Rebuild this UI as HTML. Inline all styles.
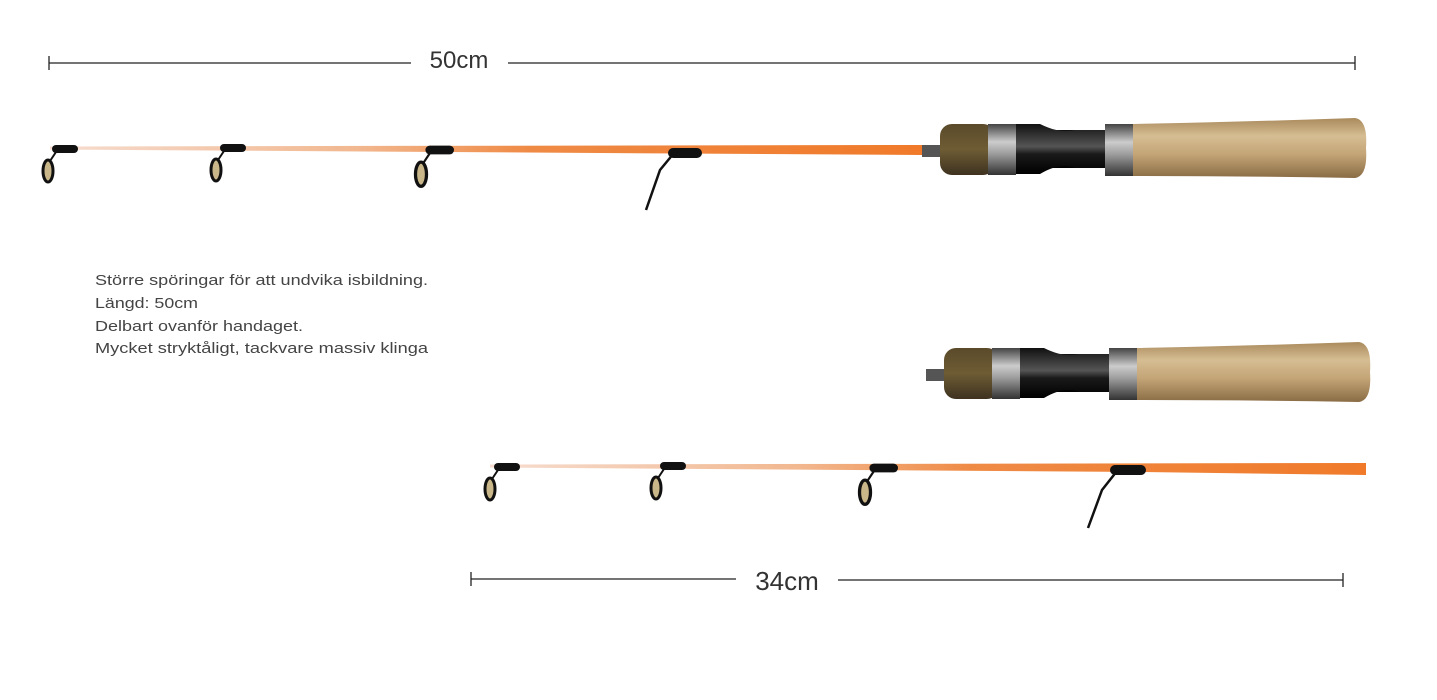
<!DOCTYPE html>
<html><head><meta charset="utf-8"><style>
html,body{margin:0;padding:0;background:#fff;}
svg{display:block;}
</style></head><body>
<svg width="1437" height="700" viewBox="0 0 1437 700" xmlns="http://www.w3.org/2000/svg">
<defs>
<linearGradient id="blank" x1="0" x2="1" y1="0" y2="0">
<stop offset="0" stop-color="#f6ddd0"/><stop offset="0.35" stop-color="#f2b890"/><stop offset="0.55" stop-color="#ef8a45"/><stop offset="1" stop-color="#f07a2a"/>
</linearGradient>
<linearGradient id="cork" x1="0" x2="0" y1="0" y2="1">
<stop offset="0" stop-color="#a98a5c"/><stop offset="0.3" stop-color="#d6bd93"/><stop offset="0.6" stop-color="#c4a577"/><stop offset="1" stop-color="#8a6c45"/>
</linearGradient>
<linearGradient id="knob" x1="0" x2="0" y1="0" y2="1">
<stop offset="0" stop-color="#5a4a2a"/><stop offset="0.5" stop-color="#6e5c34"/><stop offset="1" stop-color="#3e3220"/>
</linearGradient>
<linearGradient id="silver" x1="0" x2="0" y1="0" y2="1">
<stop offset="0" stop-color="#444"/><stop offset="0.35" stop-color="#ccc"/><stop offset="0.6" stop-color="#999"/><stop offset="1" stop-color="#333"/>
</linearGradient>
<linearGradient id="black" x1="0" x2="0" y1="0" y2="1">
<stop offset="0" stop-color="#111"/><stop offset="0.45" stop-color="#555"/><stop offset="0.6" stop-color="#1a1a1a"/><stop offset="1" stop-color="#000"/>
</linearGradient>
<g id="handle">
<rect x="922" y="145" width="22" height="12" fill="#555"/>
<rect x="940" y="124" width="55" height="51" rx="12" fill="url(#knob)"/>
<rect x="1010" y="130" width="100" height="38" fill="url(#black)"/>
<path d="M1010 124 H1040 Q1060 134 1075 130 H1110 V168 H1075 Q1060 162 1040 174 H1010Z" fill="url(#black)"/>
<rect x="988" y="124" width="28" height="51" fill="url(#silver)"/>
<rect x="1105" y="124" width="32" height="52" fill="url(#silver)"/>
<path d="M1133 124 Q1240 122 1355 118 Q1368 120 1366 148 Q1368 176 1355 178 Q1240 176 1133 176Z" fill="url(#cork)"/>
</g>
<g id="guide">
<path d="M0 0 L-8 12" stroke="#111" stroke-width="2" fill="none"/>
<ellipse cx="-10" cy="22" rx="5" ry="11" fill="#c9b78a" stroke="#111" stroke-width="3"/>
<rect x="-6" y="-4" width="26" height="8" rx="4" fill="#111"/>
</g>
</defs>

<!-- top dimension -->
<g stroke="#222" stroke-width="1.3">
<line x1="49" y1="63" x2="411" y2="63"/><line x1="508" y1="63" x2="1355" y2="63"/>
<line x1="49" y1="56" x2="49" y2="70"/><line x1="1355" y1="56" x2="1355" y2="70"/>
</g>
<text x="459" y="68" font-family="Liberation Sans, sans-serif" font-size="24" fill="#333" text-anchor="middle">50cm</text>

<!-- top rod -->
<path d="M50 146.5 L922 145 L922 155 L50 149.5Z" fill="url(#blank)"/>
<use href="#handle"/>
<use href="#guide" x="58" y="149"/>
<use href="#guide" x="226" y="148"/>
<g transform="translate(432,150) scale(1.1)"><use href="#guide"/></g>
<path d="M674 153 L660 170 L646 210" stroke="#111" stroke-width="2.5" fill="none"/>
<rect x="668" y="148" width="34" height="10" rx="5" fill="#111"/>

<!-- text -->
<g font-family="Liberation Sans, sans-serif" font-size="15" fill="#444">
<text x="95" y="285" textLength="333" lengthAdjust="spacingAndGlyphs">Större spöringar för att undvika isbildning.</text>
<text x="95" y="308" textLength="103" lengthAdjust="spacingAndGlyphs">Längd: 50cm</text>
<text x="95" y="331" textLength="208" lengthAdjust="spacingAndGlyphs">Delbart ovanför handaget.</text>
<text x="95" y="353" textLength="333" lengthAdjust="spacingAndGlyphs">Mycket stryktåligt, tackvare massiv klinga</text>
</g>

<!-- bottom handle -->
<rect x="930" y="369" width="20" height="12" fill="#555"/>
<use href="#handle" x="4" y="224"/>

<!-- bottom rod -->
<path d="M490 464.5 L1366 463 L1366 475 L1140 472 L490 467.5Z" fill="url(#blank)"/>
<use href="#guide" x="500" y="467"/>
<use href="#guide" x="666" y="466"/>
<g transform="translate(876,468) scale(1.1)"><use href="#guide"/></g>
<path d="M1117 471 L1102 490 L1088 528" stroke="#111" stroke-width="2.5" fill="none"/>
<rect x="1110" y="465" width="36" height="10" rx="5" fill="#111"/>

<!-- bottom dimension -->
<g stroke="#222" stroke-width="1.3">
<line x1="471" y1="579" x2="736" y2="579"/><line x1="838" y1="580" x2="1343" y2="580"/>
<line x1="471" y1="572" x2="471" y2="586"/><line x1="1343" y1="573" x2="1343" y2="587"/>
</g>
<text x="787" y="590" font-family="Liberation Sans, sans-serif" font-size="26" fill="#333" text-anchor="middle">34cm</text>
</svg>
</body></html>
